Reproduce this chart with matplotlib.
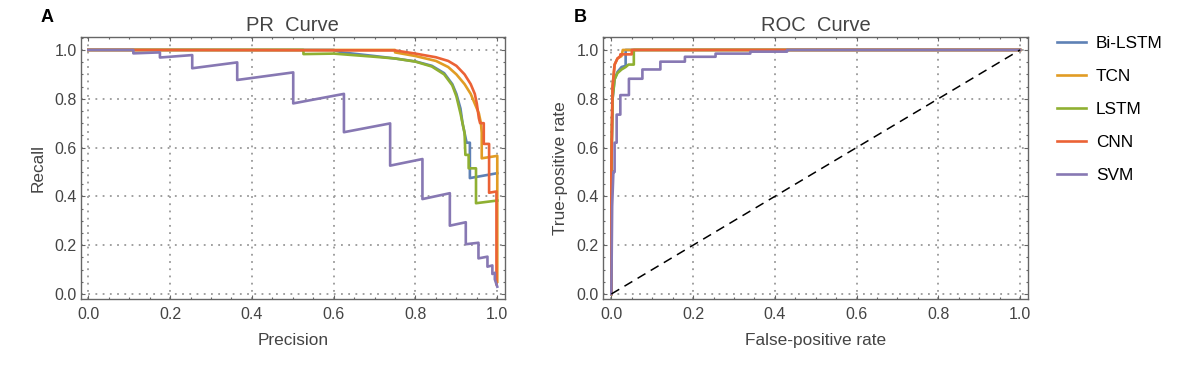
#!/usr/bin/env python3

import matplotlib
matplotlib.use('Agg')
import matplotlib.pyplot as plt
from matplotlib.lines import Line2D
from matplotlib.ticker import MultipleLocator

plt.rcParams['font.family'] = ['Liberation Sans', 'DejaVu Sans']

models = ["Bi-LSTM", "TCN", "LSTM", "CNN", "SVM"]
colors = ["#5E81B5", "#E19C24", "#8FB032", "#EB6235", "#8778B3"]

# PR curve vertices (x = precision, y = recall)
pr_bilstm_x = [0.0, 0.11, 0.60, 0.62, 0.70, 0.75, 0.80, 0.84, 0.87, 0.89, 0.90, 0.91, 0.915, 0.92, 0.925, 0.933, 0.933, 1.0]
pr_bilstm_y = [1.0, 1.0, 1.0, 0.99, 0.975, 0.965, 0.953, 0.935, 0.905, 0.86, 0.82, 0.76, 0.70, 0.66, 0.62, 0.62, 0.475, 0.495]

pr_tcn_x = [0.0, 0.11, 0.75, 0.75, 0.80, 0.85, 0.88, 0.90, 0.92, 0.935, 0.945, 0.955, 0.96, 0.962, 0.962, 1.0, 1.0]
pr_tcn_y = [1.0, 1.0, 1.0, 0.99, 0.975, 0.955, 0.93, 0.90, 0.86, 0.82, 0.78, 0.74, 0.70, 0.66, 0.556, 0.566, 0.05]

pr_lstm_x = [0.0, 0.526, 0.526, 0.60, 0.70, 0.75, 0.80, 0.84, 0.87, 0.89, 0.90, 0.91, 0.92, 0.922, 0.93, 0.93, 0.948, 0.948, 1.0]
pr_lstm_y = [1.0, 1.0, 0.983, 0.985, 0.972, 0.965, 0.952, 0.932, 0.90, 0.855, 0.81, 0.74, 0.66, 0.57, 0.57, 0.515, 0.515, 0.372, 0.383]

pr_cnn_x = [0.0, 0.11, 0.75, 0.80, 0.85, 0.88, 0.90, 0.92, 0.935, 0.945, 0.95, 0.955, 0.958, 0.967, 0.967, 0.98, 0.98, 0.998, 0.998]
pr_cnn_y = [1.0, 1.0, 0.998, 0.985, 0.97, 0.955, 0.935, 0.90, 0.86, 0.82, 0.78, 0.72, 0.70, 0.70, 0.615, 0.615, 0.415, 0.42, 0.04]

pr_svm_x = [0.0, 0.110, 0.110, 0.175, 0.175, 0.254, 0.254, 0.364, 0.364, 0.501, 0.501, 0.625, 0.625, 0.738, 0.738,
            0.817, 0.817, 0.884, 0.884, 0.923, 0.923, 0.954, 0.954, 0.976, 0.976, 0.988, 0.988, 0.994, 0.994, 1.0]
pr_svm_y = [1.0, 1.0, 0.986, 0.990, 0.969, 0.979, 0.925, 0.949, 0.877, 0.908, 0.781, 0.820, 0.663, 0.699, 0.526,
            0.553, 0.389, 0.413, 0.280, 0.294, 0.204, 0.210, 0.146, 0.153, 0.112, 0.117, 0.082, 0.087, 0.060, 0.03]

# ROC curve vertices (x = false-positive rate, y = true-positive rate)
roc_bilstm_x = [0.0, 0.0, 0.003, 0.008, 0.015, 0.025, 0.035, 0.035, 1.0]
roc_bilstm_y = [0.0, 0.5, 0.80, 0.88, 0.91, 0.93, 0.935, 1.0, 1.0]

roc_tcn_x = [0.0, 0.0, 0.003, 0.008, 0.015, 0.025, 0.028, 1.0]
roc_tcn_y = [0.0, 0.55, 0.85, 0.94, 0.965, 0.975, 1.0, 1.0]

roc_lstm_x = [0.0, 0.0, 0.003, 0.008, 0.015, 0.025, 0.035, 0.042, 0.055, 0.055, 1.0]
roc_lstm_y = [0.0, 0.5, 0.80, 0.88, 0.905, 0.92, 0.93, 0.94, 0.94, 1.0, 1.0]

roc_cnn_x = [0.0, 0.0, 0.003, 0.008, 0.015, 0.022, 0.022, 0.05, 0.05, 1.0]
roc_cnn_y = [0.0, 0.5, 0.85, 0.94, 0.965, 0.975, 0.982, 0.982, 1.0, 1.0]

roc_svm_x = [0.0, 0.002, 0.005, 0.008, 0.008, 0.013, 0.013, 0.022, 0.022, 0.043, 0.043, 0.076, 0.076, 0.12, 0.12,
             0.18, 0.18, 0.255, 0.255, 0.34, 0.34, 0.43, 0.43, 1.0]
roc_svm_y = [0.0, 0.36, 0.5, 0.5, 0.62, 0.62, 0.735, 0.735, 0.815, 0.815, 0.882, 0.882, 0.92, 0.92, 0.952,
             0.952, 0.972, 0.972, 0.985, 0.985, 0.993, 0.993, 1.0, 1.0]

pr_curves = [(pr_bilstm_x, pr_bilstm_y), (pr_tcn_x, pr_tcn_y), (pr_lstm_x, pr_lstm_y),
             (pr_cnn_x, pr_cnn_y), (pr_svm_x, pr_svm_y)]
roc_curves = [(roc_bilstm_x, roc_bilstm_y), (roc_tcn_x, roc_tcn_y), (roc_lstm_x, roc_lstm_y),
              (roc_cnn_x, roc_cnn_y), (roc_svm_x, roc_svm_y)]

text_col = "#444444"
frame_col = "#666666"


def style_axes(ax, title, xlabel, ylabel, xlim, ylim):
    ax.set_xlim(*xlim)
    ax.set_ylim(*ylim)
    ax.xaxis.set_major_locator(MultipleLocator(0.2))
    ax.yaxis.set_major_locator(MultipleLocator(0.2))
    ax.xaxis.set_minor_locator(MultipleLocator(0.05))
    ax.yaxis.set_minor_locator(MultipleLocator(0.05))
    ax.xaxis.set_major_formatter(lambda v, p: "%.1f" % v)
    ax.yaxis.set_major_formatter(lambda v, p: "%.1f" % v)
    ax.tick_params(which='both', direction='in', top=True, right=True, color=frame_col, width=0.8)
    ax.tick_params(which='major', length=3)
    ax.tick_params(which='minor', length=1.6)
    ax.tick_params(axis='x', which='major', labelsize=11.5, labelcolor=text_col, pad=6)
    ax.tick_params(axis='y', which='major', labelsize=11.5, labelcolor=text_col, pad=3)
    for s in ax.spines.values():
        s.set_color(frame_col)
        s.set_linewidth(1.0)
    ax.grid(True, which='major', linestyle=(0, (1, 3)), color="#999999", linewidth=1.3)
    ax.set_axisbelow(True)
    ax.set_title(title, fontsize=14.5, color=text_col, pad=4)
    ax.set_xlabel(xlabel, fontsize=12.4, color=text_col, labelpad=8)
    ax.set_ylabel(ylabel, fontsize=12.4, color=text_col, labelpad=6)


fig = plt.figure(figsize=(12, 3.65), dpi=100)
ax1 = fig.add_axes([0.0673, 0.1808, 0.3535, 0.7178])
ax2 = fig.add_axes([0.5023, 0.1808, 0.3544, 0.7178])

for (x, y), c in zip(pr_curves, colors):
    ax1.plot(x, y, color=c, linewidth=1.9)
for (x, y), c in zip(roc_curves, colors):
    ax2.plot(x, y, color=c, linewidth=1.9)
ax2.plot([0, 1], [0, 1], color="black", linestyle=(0, (6, 4)), linewidth=1.1)

style_axes(ax1, "PR  Curve", "Precision", "Recall", (-0.0186, 1.0188), (-0.0205, 1.053))
style_axes(ax2, "ROC  Curve", "False-positive rate", "True-positive rate", (-0.021, 1.0196), (-0.0205, 1.053))

fig.text(0.034, 0.975, "A", fontsize=13, fontweight='bold', va='top')
fig.text(0.478, 0.975, "B", fontsize=13, fontweight='bold', va='top')

handles = [Line2D([], [], color=c, linewidth=1.9) for c in colors]
fig.legend(handles, models, loc='upper left', bbox_to_anchor=(0.868, 0.944), frameon=False,
           fontsize=12.4, handlelength=1.65, handletextpad=0.6, labelspacing=1.04)

fig.savefig("out.png", dpi=100)
plt.close(fig)
